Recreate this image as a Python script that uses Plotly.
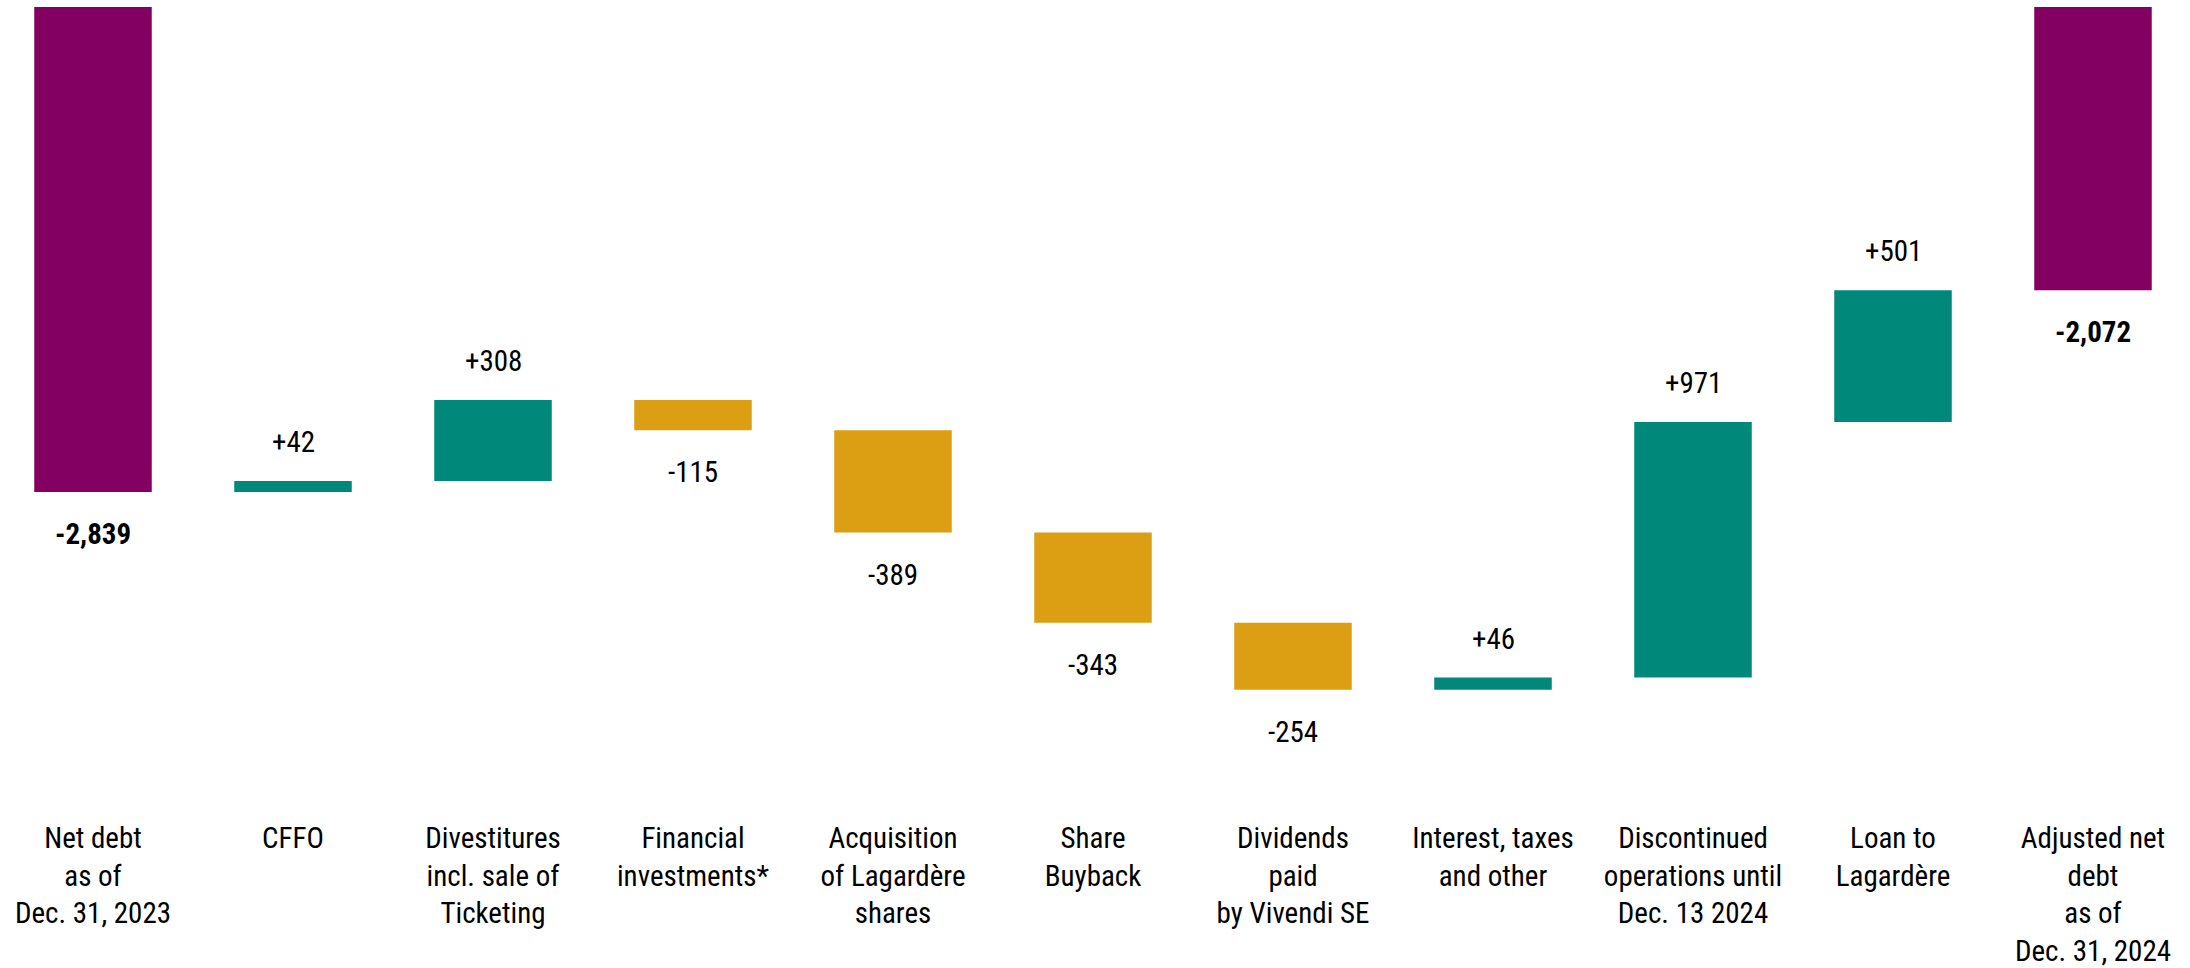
import plotly.graph_objects as go

categories = [
    "Net debt<br>as of<br>Dec. 31, 2023",
    "CFFO",
    "Divestitures<br>incl. sale of<br>Ticketing",
    "Financial<br>investments*",
    "Acquisition<br>of Lagardère<br>shares",
    "Share<br>Buyback",
    "Dividends<br>paid<br>by Vivendi SE",
    "Interest, taxes<br>and other",
    "Discontinued<br>operations until<br>Dec. 13 2024",
    "Loan to<br>Lagardère",
    "Adjusted net<br>debt<br>as of<br>Dec. 31, 2024",
]
values = [-2839, 42, 308, -115, -389, -343, -254, 46, 971, 501, -2072]
measures = ["absolute"] + ["relative"] * 9 + ["total"]
labels = ["-2,839", "+42", "+308", "-115", "-389", "-343", "-254", "+46", "+971", "+501", "-2,072"]

PURPLE = "#830062"
TEAL = "#00897A"
GOLD = "#DC9E12"
FONT = "Liberation Sans Narrow, Roboto Condensed, Roboto, DejaVu Sans Condensed, sans-serif"

fig = go.Figure()
fig.add_trace(go.Waterfall(
    x=categories,
    y=values,
    measure=measures,
    width=0.5875,
    increasing=dict(marker=dict(color=TEAL)),
    decreasing=dict(marker=dict(color=GOLD)),
    totals=dict(marker=dict(color=PURPLE)),
    connector=dict(visible=False),
    textinfo="none",
    hoverinfo="skip",
))

# labels at the end of each bar
running = 0
for cat, m, v, lab in zip(categories, measures, values, labels):
    if m == "absolute":
        running = v
        end = v
        up = False
        bold = True
    elif m == "total":
        end = running
        up = False
        bold = True
    else:
        running += v
        end = running
        up = v > 0
        bold = False
    fig.add_annotation(
        x=cat, y=end, xref="x", yref="y",
        text=f"<b>{lab}</b>" if bold else lab,
        showarrow=False,
        yanchor="middle",
        yshift=39 if up else -42,
        font=dict(size=29, color="#000000", family=FONT),
    )

fig.update_layout(
    width=2190, height=968,
    margin=dict(l=0, r=0, t=7, b=156),
    paper_bgcolor="white", plot_bgcolor="white",
    showlegend=False,
    font=dict(family=FONT, size=29, color="#000000"),
    xaxis=dict(
        range=[-0.465, 10.485],
        showgrid=False, showline=False, zeroline=False, ticks="",
        tickfont=dict(size=29, color="#000000", family=FONT),
        ticklabelstandoff=6,
        fixedrange=True,
    ),
    yaxis=dict(
        range=[-4055, -996],
        visible=False, showgrid=False, zeroline=False,
        fixedrange=True,
    ),
)

fig.write_html("out.html")
